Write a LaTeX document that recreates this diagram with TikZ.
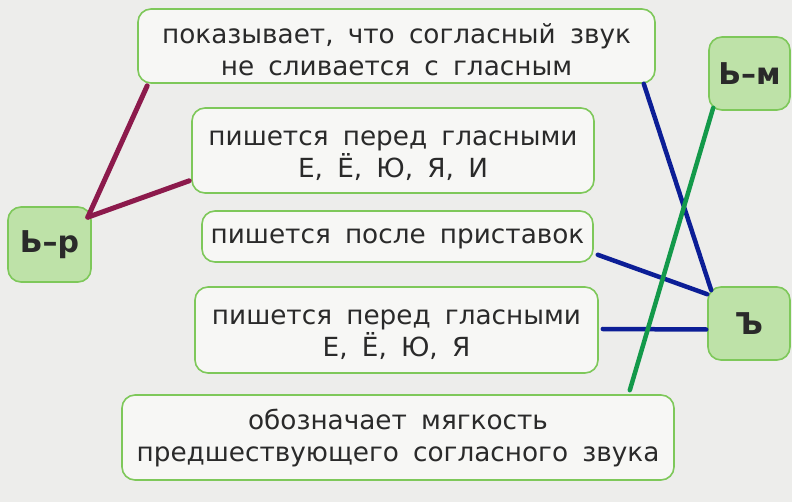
\documentclass[tikz,border=0pt]{standalone}
\usepackage{fontspec}
\setmainfont[WordSpace=1.7]{DejaVu Sans}
\newfontfamily\lblfont{DejaVu Sans}
\usetikzlibrary{calc}
\definecolor{paper}{HTML}{EDEDEB}
\definecolor{boxfill}{HTML}{F7F7F5}
\definecolor{boxline}{HTML}{7EC85A}
\definecolor{lblfill}{HTML}{BEE2A8}
\definecolor{txt}{HTML}{2A2A2A}
\definecolor{maroon}{HTML}{8C1A4C}
\definecolor{dblue}{HTML}{0C1E96}
\definecolor{dgreen}{HTML}{13994A}
\tikzset{
  textbox/.style={draw=boxline, line width=1.6pt, fill=boxfill, rounded corners=13pt, inner sep=0pt},
  boxtext/.style={align=center, text=txt, font=\fontsize{26.3}{32}\selectfont, inner sep=0pt},
  lblbox/.style={draw=boxline, line width=1.6pt, fill=lblfill, rounded corners=13pt,
    align=center, text=txt, font=\lblfont\bfseries\fontsize{30}{30}\selectfont, inner sep=0pt},
  link/.style={line width=4.5pt, line cap=round}
}
\begin{document}
\begin{tikzpicture}[x=1pt,y=-1pt]
\fill[paper] (0,0) rectangle (792,502);
\useasboundingbox (0,0) rectangle (792,502);
\node[textbox, minimum width=517pt, minimum height=74pt] (b1) at (396.5,46) {};
\node[boxtext] (t1) at ($(b1.center)+(0,4)$) {показывает, что согласный звук\\не сливается с гласным};
\node[textbox, minimum width=402pt, minimum height=85pt] (b2) at (393,150.5) {};
\node[boxtext] (t2) at ($(b2.center)+(0,5)$) {пишется перед гласными\\Е, Ё, Ю, Я, И};
\node[textbox, minimum width=391pt, minimum height=51pt] (b3) at (397.5,236.5) {};
\node[boxtext] (t3) at ($(b3.center)+(0,2)$) {пишется после приставок};
\node[textbox, minimum width=403pt, minimum height=86pt] (b4) at (396.5,330) {};
\node[boxtext] (t4) at ($(b4.center)+(0,5)$) {пишется перед гласными\\Е, Ё, Ю, Я};
\node[textbox, minimum width=552pt, minimum height=85pt] (b5) at (398,437.5) {};
\node[boxtext] (t5) at ($(b5.center)+(0,1)$) {обозначает мягкость\\предшествующего согласного звука};
\node[lblbox, minimum width=83pt, minimum height=75pt] (rp) at (49.5,244.5) {Ь–р};
\node[lblbox, minimum width=81pt, minimum height=73pt] (rm) at (749.5,73.5) {Ь–м};
\node[lblbox, minimum width=82pt, minimum height=73pt] (hd) at (749,323.5) {Ъ};
% maroon links
\coordinate (rpc) at ($(rp.north east)+(-4,11)$);
\draw[link, maroon, line width=5pt] (rpc) -- ($(b1.south west)+(10,2)$);
\draw[link, maroon, line width=5pt] (rpc) -- ($(b2.south west)+(-2,-13)$);
% blue links
\draw[link, dblue] ($(b1.south east)+(-12,0)$) -- ($(hd.north west)+(4,4)$);
\draw[link, dblue] ($(b3.south east)+(4,-8)$) -- ($(hd.north west)+(0,8)$);
\draw[link, dblue] ($(b4.east)+(4,-1)$) -- ($(hd.west)+(-1,6)$);
% green link
\draw[link, dgreen] ($(rm.south west)+(5,-3)$) -- ($(b5.north east)+(-45,-4)$);
\end{tikzpicture}
\end{document}
